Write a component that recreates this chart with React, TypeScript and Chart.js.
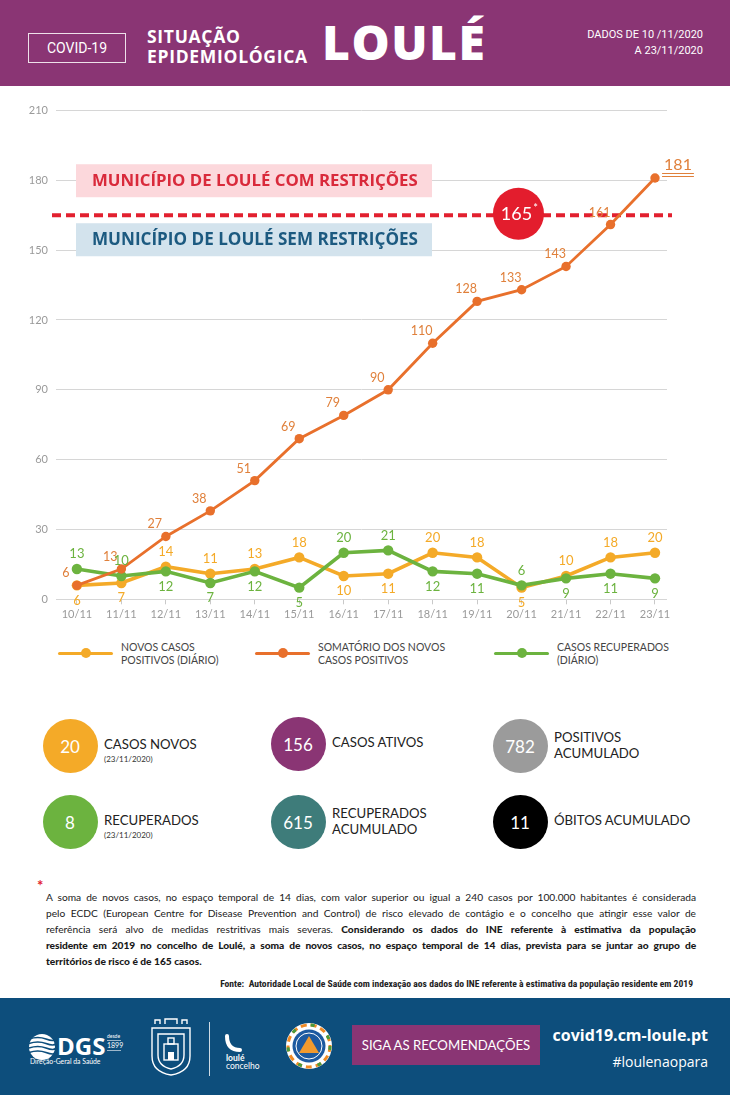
import React, { useEffect, useRef } from "react";
import { Chart, registerables } from "chart.js";

Chart.register(...registerables);

// ---------- DATA ----------
const categories = ["10/11", "11/11", "12/11", "13/11", "14/11", "15/11", "16/11", "17/11", "18/11", "19/11", "20/11", "21/11", "22/11", "23/11"];
const dailyNew = [6, 7, 14, 11, 13, 18, 10, 11, 20, 18, 5, 10, 18, 20];
const cumulative = [6, 13, 27, 38, 51, 69, 79, 90, 110, 128, 133, 143, 161, 181];
const recovered = [13, 10, 12, 7, 12, 5, 20, 21, 12, 11, 6, 9, 11, 9];
const yTicks = [0, 30, 60, 90, 120, 150, 180, 210];
const threshold = 165;
const thresholdLabel = "165";
const aboveText = "MUNICÍPIO DE LOULÉ COM RESTRIÇÕES";
const belowText = "MUNICÍPIO DE LOULÉ SEM RESTRIÇÕES";

const legendLines = [
  ["NOVOS CASOS", "POSITIVOS (DIÁRIO)"],
  ["SOMATÓRIO DOS NOVOS", "CASOS POSITIVOS"],
  ["CASOS RECUPERADOS", "(DIÁRIO)"],
];

const summaryNumbers = ["20", "156", "782", "8", "615", "11"];
const summaryTitles = [["CASOS NOVOS"], ["CASOS ATIVOS"], ["POSITIVOS", "ACUMULADO"], ["RECUPERADOS"], ["RECUPERADOS", "ACUMULADO"], ["ÓBITOS ACUMULADO"]];
const summaryNotes = ["(23/11/2020)", "", "", "(23/11/2020)", "", ""];

// ---------- STYLE ----------
const YELLOW = "#f4aa28";
const ORANGE = "#e8702c";
const GREEN = "#6cb33f";
const PURPLE = "#8a3574";
const FOOTER_BLUE = "#0d4e7c";
const FONT = 'Lato, "Noto Sans", sans-serif';
const HEAD = '"Open Sans", "Noto Sans", sans-serif';
const summaryColors = [YELLOW, PURPLE, "#9b9b9b", GREEN, "#3e7c7a", "#000000"];

const annotationPlugin = {
  id: "thresholdAnnotation",
  beforeDatasetsDraw(chart: any) {
    const { ctx, chartArea, scales } = chart;
    const yLine = scales.y.getPixelForValue(threshold);
    const bx = chartArea.left + 20;
    const bw = 356;
    ctx.save();
    ctx.fillStyle = "#fcd8dc";
    ctx.fillRect(bx, yLine - 51, bw, 33);
    ctx.fillStyle = "#d3e3ed";
    ctx.fillRect(bx, yLine + 8, bw, 33);
    const fit = (text: string, target: number) => {
      ctx.font = `700 15px ${HEAD}`;
      const w = ctx.measureText(text).width;
      return 15 * target / w;
    };
    ctx.textBaseline = "middle";
    ctx.textAlign = "left";
    ctx.fillStyle = "#d92a3b";
    ctx.font = `700 ${fit(aboveText, 326)}px ${HEAD}`;
    ctx.fillText(aboveText, bx + 16, yLine - 34);
    ctx.fillStyle = "#1c5a80";
    ctx.font = `700 ${fit(belowText, 326)}px ${HEAD}`;
    ctx.fillText(belowText, bx + 16, yLine + 25);
    ctx.strokeStyle = "#e2202f";
    ctx.lineWidth = 4;
    ctx.setLineDash([9, 5]);
    ctx.beginPath();
    ctx.moveTo(chartArea.left - 4, yLine);
    ctx.lineTo(chartArea.right + 5, yLine);
    ctx.stroke();
    ctx.setLineDash([]);
    const cx = scales.x.getPixelForValue(9.93);
    ctx.fillStyle = "#e31d2d";
    ctx.beginPath();
    ctx.ellipse(cx, yLine - 1.5, 25.5, 26, 0, 0, Math.PI * 2);
    ctx.fill();
    ctx.fillStyle = "#ffffff";
    ctx.font = `400 18px ${FONT}`;
    const tw = ctx.measureText(thresholdLabel).width;
    ctx.textAlign = "left";
    ctx.fillText(thresholdLabel, cx - tw / 2 - 2, yLine - 1);
    ctx.font = `400 11px ${FONT}`;
    ctx.fillText("*", cx + tw / 2 - 1, yLine - 7);
    ctx.restore();
  },
};

const labelsPlugin = {
  id: "valueLabels",
  afterDatasetsDraw(chart: any) {
    const { ctx } = chart;
    const mO = chart.getDatasetMeta(0).data;
    const mG = chart.getDatasetMeta(1).data;
    const mY = chart.getDatasetMeta(2).data;
    ctx.save();
    ctx.textAlign = "center";
    ctx.textBaseline = "middle";
    const last = cumulative.length - 1;
    cumulative.forEach((v, i) => {
      const p = mO[i];
      ctx.fillStyle = "#e0803b";
      if (i === last) {
        ctx.font = `400 16px ${FONT}`;
        const x = p.x + 23;
        const y = p.y - 13;
        ctx.fillText(String(v), x, y);
        const w = ctx.measureText(String(v)).width;
        ctx.strokeStyle = "#e0803b";
        ctx.lineWidth = 1;
        ctx.beginPath();
        ctx.moveTo(x - w / 2 - 2, y + 8.5);
        ctx.lineTo(x + w / 2 + 2, y + 8.5);
        ctx.moveTo(x - w / 2 - 2, y + 11.5);
        ctx.lineTo(x + w / 2 + 2, y + 11.5);
        ctx.stroke();
      } else {
        ctx.font = `400 12.5px ${FONT}`;
        ctx.fillText(String(v), p.x - 11, p.y - 12);
      }
    });
    ctx.font = `400 13px ${FONT}`;
    dailyNew.forEach((v, i) => {
      const r = recovered[i];
      const py = mY[i];
      const pg = mG[i];
      const yAbove = v >= r;
      ctx.fillStyle = YELLOW;
      ctx.fillText(String(v), py.x, py.y + (yAbove ? -15 : 15));
      ctx.fillStyle = GREEN;
      ctx.fillText(String(r), pg.x, pg.y + (yAbove ? 15 : -15));
    });
    ctx.restore();
  },
};

function ChartBlock() {
  const ref = useRef<HTMLCanvasElement | null>(null);
  useEffect(() => {
    if (!ref.current) return;
    const pts = (arr: number[]) => arr.map((v, i) => ({ x: i, y: v }));
    const chart = new Chart(ref.current, {
      type: "line",
      data: {
        datasets: [
          {
            label: legendLines[1].join(" "),
            data: pts(cumulative),
            borderColor: ORANGE,
            backgroundColor: ORANGE,
            borderWidth: 2.8,
            pointRadius: 4.7,
            pointBorderWidth: 0,
            pointBackgroundColor: ORANGE,
            tension: 0,
          },
          {
            label: legendLines[2].join(" "),
            data: pts(recovered),
            borderColor: GREEN,
            backgroundColor: GREEN,
            borderWidth: 3.6,
            pointRadius: 5.2,
            pointBorderWidth: 0,
            pointBackgroundColor: GREEN,
            tension: 0,
          },
          {
            label: legendLines[0].join(" "),
            data: pts(dailyNew),
            borderColor: YELLOW,
            backgroundColor: YELLOW,
            borderWidth: 3.6,
            pointRadius: 5.2,
            pointBorderWidth: 0,
            pointBackgroundColor: YELLOW,
            tension: 0,
          },
        ],
      },
      options: {
        animation: false,
        responsive: false,
        maintainAspectRatio: false,
        layout: { padding: { top: 15.5, right: 63, bottom: 0, left: 0 } },
        plugins: { legend: { display: false }, tooltip: { enabled: false } },
        scales: {
          x: {
            type: "linear",
            min: -0.47,
            max: 13.27,
            afterBuildTicks: (s: any) => {
              s.ticks = categories.map((_, i) => ({ value: i }));
            },
            afterFit: (s: any) => {
              s.height = 35.7;
            },
            ticks: {
              callback: (v: any) => categories[v as number] ?? "",
              color: "#9a9a9a",
              font: { family: FONT, size: 11 },
              padding: 4,
              maxRotation: 0,
              autoSkip: false,
            },
            grid: { drawOnChartArea: false, drawTicks: true, tickLength: 5, color: "#c9c9c9" },
            border: { display: false },
          },
          y: {
            min: 0,
            max: 210,
            afterBuildTicks: (s: any) => {
              s.ticks = yTicks.map((v) => ({ value: v }));
            },
            afterFit: (s: any) => {
              s.width = 56;
            },
            ticks: { color: "#9a9a9a", font: { family: FONT, size: 11 }, padding: 8 },
            grid: { color: "#d6d6d6", drawTicks: false, lineWidth: 1 },
            border: { display: false },
          },
        },
      } as any,
      plugins: [annotationPlugin, labelsPlugin],
    });
    return () => chart.destroy();
  }, []);
  return (
    <canvas
      ref={ref}
      width={730}
      height={540}
      style={{ position: "absolute", left: 0, top: 95, width: 730, height: 540 }}
    />
  );
}

const abs = (o: React.CSSProperties): React.CSSProperties => ({ position: "absolute", ...o });

function Header() {
  return (
    <div style={abs({ left: 0, top: 0, width: 730, height: 86, background: PURPLE, color: "#fff", fontFamily: HEAD })}>
      <div style={abs({ left: 28, top: 33, width: 96, height: 28, border: "1px solid rgba(255,255,255,0.85)", display: "flex", alignItems: "center", justifyContent: "center", fontSize: 14, fontFamily: 'Roboto, sans-serif' })}>
        COVID-19
      </div>
      <div style={abs({ left: 147, top: 26, fontWeight: 700, fontSize: 17.5, lineHeight: "20px", letterSpacing: 0.7 })}>
        SITUAÇÃO<br />EPIDEMIOLÓGICA
      </div>
      <div style={abs({ left: 322, top: 10, fontWeight: 800, fontSize: 48, lineHeight: "64px", letterSpacing: 1.5 })}>
        LOULÉ
      </div>
      <div style={abs({ right: 27, top: 27, textAlign: "right", fontSize: 11, lineHeight: "16px", fontFamily: 'Roboto, sans-serif' })}>
        DADOS DE 10 /11/2020<br />A 23/11/2020
      </div>
    </div>
  );
}

function Legend() {
  const colors = [YELLOW, ORANGE, GREEN];
  const starts = [58, 255, 494];
  return (
    <>
      {legendLines.map((lines, i) => (
        <React.Fragment key={i}>
          <div style={abs({ left: starts[i], top: 651.5, width: 55, height: 3.5, background: colors[i], borderRadius: 2 })} />
          <div style={abs({ left: starts[i] + 22.5, top: 648, width: 10, height: 10, borderRadius: 5, background: colors[i] })} />
          <div style={abs({ left: starts[i] + 63, top: 641, fontFamily: FONT, fontSize: 10.5, lineHeight: "13px", color: "#444" })}>
            {lines[0]}<br />{lines[1]}
          </div>
        </React.Fragment>
      ))}
    </>
  );
}

function Summary() {
  const cols = [70, 298, 520];
  const rows = [746, 822];
  return (
    <>
      {summaryNumbers.map((n, i) => {
        const cx = cols[i % 3];
        const cy = rows[Math.floor(i / 3)] - (i === 1 ? 2 : 0);
        const titles = summaryTitles[i];
        const note = summaryNotes[i];
        return (
          <React.Fragment key={i}>
            <div style={abs({ left: cx - 27.5, top: cy - 27, width: 55, height: 54, borderRadius: "50%", background: summaryColors[i], color: "#fff", display: "flex", alignItems: "center", justifyContent: "center", fontFamily: FONT, fontSize: 17 })}>
              {n}
            </div>
            <div style={abs({ left: cx + 34, top: titles.length === 2 ? cy - 17 : cy - 10, fontFamily: FONT, fontSize: 13.2, lineHeight: "16px", color: "#222", whiteSpace: "nowrap" })}>
              {titles.map((t, k) => (
                <div key={k}>{t}</div>
              ))}
              {note ? <div style={{ fontSize: 8, lineHeight: "12px", marginTop: 1, color: "#333" }}>{note}</div> : null}
            </div>
          </React.Fragment>
        );
      })}
    </>
  );
}

function Footnote() {
  const line: React.CSSProperties = { textAlign: "justify", textAlignLast: "justify" as any, whiteSpace: "nowrap", height: 16 };
  return (
    <>
      <div style={abs({ left: 37, top: 876, color: "#e2202f", fontSize: 15, fontFamily: FONT, fontWeight: 700 })}>*</div>
      <div style={abs({ left: 46, top: 889, width: 650, fontFamily: FONT, fontSize: 10.2, lineHeight: "16px", color: "#1a1a1a" })}>
        <div style={line}>A soma de novos casos, no espaço temporal de 14 dias, com valor superior ou igual a 240 casos por 100.000 habitantes é considerada</div>
        <div style={line}>pelo ECDC (European Centre for Disease Prevention and Control) de risco elevado de contágio e o concelho que atingir esse valor de</div>
        <div style={line}>referência será alvo de medidas restritivas mais severas. <b style={{ fontWeight: 900 }}>Considerando os dados do INE referente à estimativa da população</b></div>
        <div style={{ ...line, fontWeight: 900, letterSpacing: -0.1 }}>residente em 2019 no concelho de Loulé, a soma de novos casos, no espaço temporal de 14 dias, prevista para se juntar ao grupo de</div>
        <div style={{ height: 16, fontWeight: 900 }}>territórios de risco é de 165 casos.</div>
      </div>
      <div style={abs({ right: 37, top: 978, fontFamily: '"Liberation Sans Narrow", "Roboto Condensed", Roboto, sans-serif', fontSize: 9.6, fontWeight: 700, color: "#222", whiteSpace: "pre" })}>
        {"Fonte:  Autoridade Local de Saúde com indexação aos dados do INE referente à estimativa da população residente em 2019"}
      </div>
    </>
  );
}

function Footer() {
  return (
    <svg style={abs({ left: 0, top: 998 })} width={730} height={97} viewBox="0 0 730 97">
      <rect x={0} y={0} width={730} height={97} fill={FOOTER_BLUE} />
      <circle cx={42} cy={49} r={13} fill="#fff" />
      {[41, 45.5, 50, 54.5].map((y, k) => (
        <path key={k} d={`M29 ${y} Q38 ${y - 3} 46 ${y} T56 ${y}`} stroke={FOOTER_BLUE} strokeWidth={1.6} fill="none" />
      ))}
      <text x={57} y={57} fill="#fff" fontFamily={HEAD} fontWeight={700} fontSize={24}>DGS</text>
      <text x={107} y={40} fill="#fff" fontFamily={FONT} fontSize={5}>desde</text>
      <line x1={107} y1={42.5} x2={121} y2={42.5} stroke="#fff" strokeWidth={0.6} />
      <text x={107} y={50} fill="#fff" fontFamily={FONT} fontSize={7}>1899</text>
      <line x1={107} y1={52.5} x2={121} y2={52.5} stroke="#fff" strokeWidth={0.6} />
      <text x={30} y={66} fill="#fff" fontFamily={FONT} fontSize={6.8}>Direção-Geral da Saúde</text>
      <g stroke="#fff" fill="none" strokeWidth={1.4}>
        <path d="M152 30 L190 30 L190 58 Q190 74 171 77 Q152 74 152 58 Z" />
        <path d="M158 36 L184 36 L184 57 Q184 68 171 71 Q158 68 158 57 Z" />
        <rect x={164} y={46} width={14} height={16} />
        <rect x={168} y={40} width={6} height={6} />
        <path d="M155 26 L155 22 L160 22 L160 26 M165 26 L165 21 L177 21 L177 26 M182 26 L182 22 L187 22 L187 26" />
      </g>
      <rect x={168} y={54} width={6} height={8} fill="#fff" />
      <line x1={209.5} y1={24} x2={209.5} y2={78} stroke="#fff" strokeWidth={1} opacity={0.8} />
      <path d="M227 38 Q227 52 240 52" stroke="#fff" strokeWidth={4} fill="none" strokeLinecap="round" />
      <text x={226} y={63} fill="#fff" fontFamily={FONT} fontWeight={700} fontSize={8.5}>loulé</text>
      <text x={226} y={71} fill="#fff" fontFamily={FONT} fontSize={8.5}>concelho</text>
      <circle cx={309} cy={48} r={23} fill="#fff" />
      <circle cx={309} cy={48} r={21} fill="none" stroke="#f08a24" strokeWidth={3} strokeDasharray="6 4" />
      <circle cx={309} cy={48} r={21} fill="none" stroke="#4a9a3c" strokeWidth={3} strokeDasharray="4 16" />
      <circle cx={309} cy={48} r={16.5} fill="#1d5aa0" />
      <circle cx={309} cy={48} r={13} fill="none" stroke="#fff" strokeWidth={1} />
      <path d="M309 38 L319 55 L299 55 Z" fill="#f29a2e" />
      <rect x={352} y={27} width={188} height={40} fill={PURPLE} />
      <text x={446} y={52} textAnchor="middle" fill="#fff" fontFamily={FONT} fontSize={13.2}>SIGA AS RECOMENDAÇÕES</text>
      <text x={708} y={43} textAnchor="end" fill="#fff" fontFamily={HEAD} fontWeight={700} fontSize={16}>covid19.cm-loule.pt</text>
      <text x={708} y={69} textAnchor="end" fill="#fff" fontFamily={HEAD} fontSize={14}>#loulenaopara</text>
    </svg>
  );
}

export default function App() {
  return (
    <div style={abs({ left: 0, top: 0, width: 730, height: 1095, overflow: "hidden", background: "#fff" })}>
      <Header />
      <ChartBlock />
      <Legend />
      <Summary />
      <Footnote />
      <Footer />
    </div>
  );
}
